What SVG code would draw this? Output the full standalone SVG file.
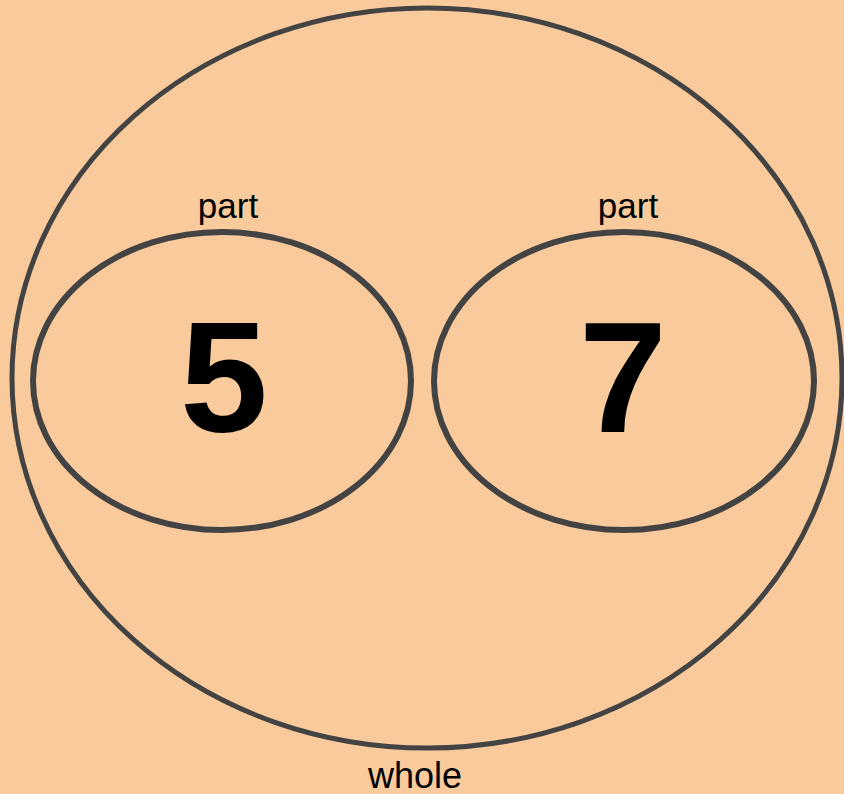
<svg xmlns="http://www.w3.org/2000/svg" width="844" height="794" viewBox="0 0 844 794">
  <style>
    .shape { fill: none; stroke: #434343; }
    .label { font-family: "Liberation Sans", Arial, sans-serif; fill: #000000; text-anchor: middle; }
    .num { font-family: "Liberation Sans", Arial, sans-serif; font-weight: bold; font-size: 158px; fill: #000000; text-anchor: middle; }
  </style>
  <rect x="0" y="0" width="844" height="794" fill="#f9cb9c"/>
  <g id="whole">
    <ellipse class="shape" cx="427" cy="378" rx="415" ry="370" stroke-width="5"/>
    <text class="label" x="415" y="788" font-size="36">whole</text>
  </g>
  <g id="part-left">
    <ellipse class="shape" cx="222" cy="381" rx="189" ry="149" stroke-width="6"/>
    <text class="label" x="228" y="218" font-size="35">part</text>
    <text class="num" x="224" y="431">5</text>
  </g>
  <g id="part-right">
    <ellipse class="shape" cx="624" cy="381" rx="190" ry="149" stroke-width="6"/>
    <text class="label" x="628" y="218" font-size="35">part</text>
    <text class="num" x="623" y="432">7</text>
  </g>
  <g id="connectors"></g>
</svg>
